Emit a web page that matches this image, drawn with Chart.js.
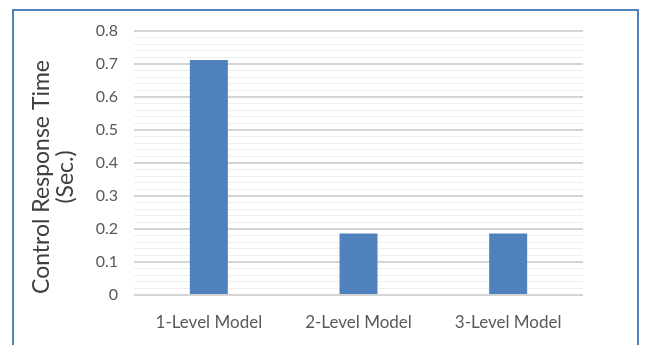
<!DOCTYPE html>
<html>
<head>
<meta charset="utf-8">
<script src="https://cdn.jsdelivr.net/npm/chart.js@4.4.1/dist/chart.umd.min.js"></script>
<style>
  html, body { margin: 0; padding: 0; background: #fff; }
  #wrap { position: relative; width: 645px; height: 345px; overflow: hidden; }
  #frame {
    position: absolute; left: 12px; top: 9px; width: 627px; height: 360px;
    border: 2px solid #4f81bd; box-sizing: border-box;
  }
  #chart { position: absolute; left: 0; top: 0; }
</style>
</head>
<body>
<div id="wrap">
  <div id="frame"></div>
  <canvas id="chart" width="645" height="345"></canvas>
</div>
<script>
// models and their measured response time in seconds
const models = ['1-Level Model', '2-Level Model', '3-Level Model'];
const responseTimes = [0.712, 0.186, 0.186];
const yAxisTitle = ['Control Response Time', '(Sec.)'];

const isMajor = v => Math.round(v * 100) % 10 === 0;

// two-line rotated axis title, centred a little below the plot centre
const sideTitle = {
    id: 'sideTitle',
    afterDraw(chart) {
        const ctx = chart.ctx;
        const cy = 177;
        const xs = [42, 66];
        ctx.save();
        ctx.fillStyle = '#404040';
        ctx.font = '23px Lato';
        ctx.textAlign = 'center';
        ctx.textBaseline = 'middle';
        yAxisTitle.forEach((line, i) => {
            ctx.save();
            ctx.translate(xs[i], cy);
            ctx.rotate(-Math.PI / 2);
            ctx.fillText(line, 0, 0);
            ctx.restore();
        });
        ctx.restore();
    }
};

const chart = new Chart(document.getElementById('chart'), {
    type: 'bar',
    data: {
        labels: models,
        datasets: [{
            data: responseTimes,
            backgroundColor: '#4f81bd',
            borderWidth: 0,
            barPercentage: 0.254,
            categoryPercentage: 1
        }]
    },
    options: {
        responsive: false,
        animation: false,
        events: [],
        layout: {
            padding: { top: 31, right: 62, left: 0, bottom: 0 }
        },
        plugins: {
            legend: { display: false },
            tooltip: { enabled: false }
        },
        scales: {
            x: {
                grid: { display: false, drawTicks: false },
                border: { display: false },
                ticks: {
                    color: '#595959',
                    font: { family: 'Lato', size: 17 },
                    padding: 17
                },
                afterFit: scale => { scale.height = 50; }
            },
            y: {
                min: 0,
                max: 0.8,
                border: { display: false },
                grid: {
                    drawTicks: false,
                    color: ctx => isMajor(ctx.tick.value) ? '#d4d4d4' : '#eeeeee',
                    lineWidth: ctx => isMajor(ctx.tick.value) ? 2 : 1
                },
                ticks: {
                    stepSize: 0.02,
                    autoSkip: false,
                    color: '#595959',
                    font: { family: 'Lato', size: 16 },
                    padding: 16,
                    callback: v => isMajor(v) ? String(Math.round(v * 10) / 10) : ''
                },
                afterFit: scale => { scale.width = 134; }
            }
        }
    },
    plugins: [sideTitle]
});
</script>
</body>
</html>
